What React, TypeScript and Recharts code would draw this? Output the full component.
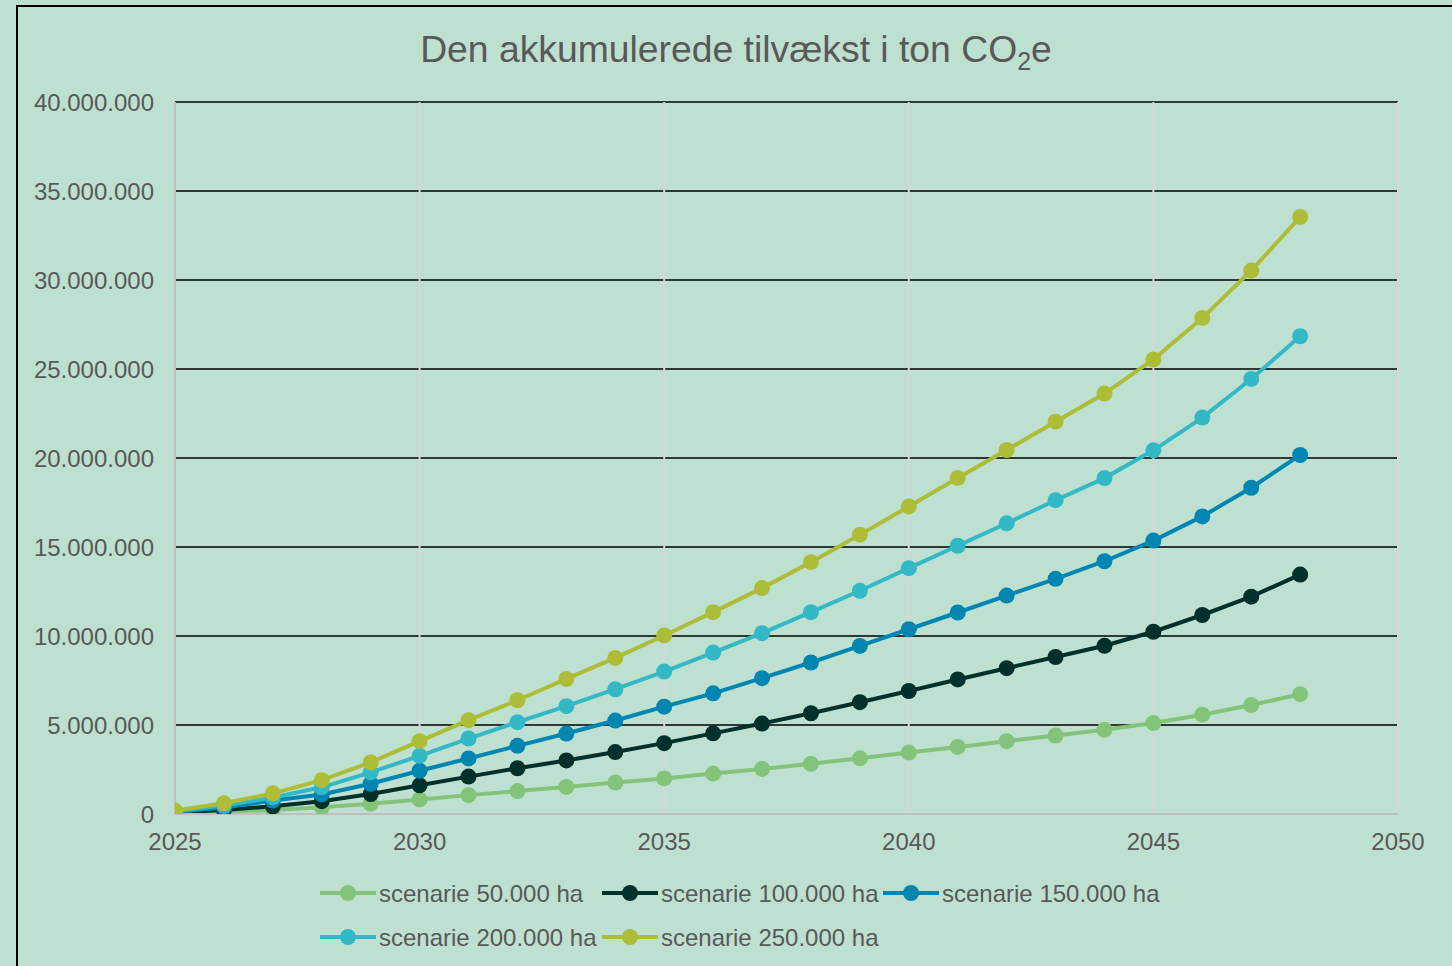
import React from "react";
import { LineChart, Line, XAxis, YAxis, CartesianGrid } from "recharts";

const years = [2025, 2026, 2027, 2028, 2029, 2030, 2031, 2032, 2033, 2034, 2035, 2036, 2037, 2038, 2039, 2040, 2041, 2042, 2043, 2044, 2045, 2046, 2047, 2048];

const scenario50 = [40000, 120000, 230000, 380000, 580000, 820000, 1060000, 1290000, 1520000, 1770000, 2000000, 2270000, 2530000, 2820000, 3130000, 3450000, 3770000, 4090000, 4410000, 4730000, 5110000, 5580000, 6120000, 6730000];
const scenario100 = [80000, 230000, 430000, 720000, 1120000, 1610000, 2100000, 2570000, 3010000, 3480000, 3980000, 4530000, 5080000, 5660000, 6280000, 6910000, 7560000, 8190000, 8820000, 9450000, 10240000, 11180000, 12210000, 13450000];
const scenario150 = [110000, 370000, 760000, 1100000, 1700000, 2430000, 3120000, 3830000, 4520000, 5250000, 6030000, 6780000, 7630000, 8510000, 9440000, 10380000, 11320000, 12270000, 13210000, 14200000, 15360000, 16720000, 18330000, 20170000];
const scenario200 = [150000, 470000, 930000, 1500000, 2340000, 3270000, 4240000, 5160000, 6060000, 7010000, 8000000, 9070000, 10160000, 11340000, 12540000, 13810000, 15070000, 16330000, 17630000, 18870000, 20430000, 22270000, 24440000, 26840000];
const scenario250 = [190000, 600000, 1160000, 1900000, 2900000, 4090000, 5270000, 6390000, 7590000, 8770000, 10030000, 11340000, 12690000, 14150000, 15690000, 17280000, 18880000, 20450000, 22040000, 23620000, 25540000, 27870000, 30530000, 33540000];

const xTicks = [2025, 2030, 2035, 2040, 2045, 2050];
const yTicks = [0, 5000000, 10000000, 15000000, 20000000, 25000000, 30000000, 35000000, 40000000];

const seriesNames = ["scenarie 50.000 ha", "scenarie 100.000 ha", "scenarie 150.000 ha", "scenarie 200.000 ha", "scenarie 250.000 ha"];
const seriesKeys = ["s50", "s100", "s150", "s200", "s250"];
const seriesColors = ["#84C47A", "#00302A", "#0086B0", "#33B9C6", "#AEBD38"];
const seriesValues = [scenario50, scenario100, scenario150, scenario200, scenario250];

const data = years.map((y, i) => {
  const row: Record<string, number> = { year: y };
  seriesKeys.forEach((k, j) => {
    row[k] = seriesValues[j][i];
  });
  return row;
});

const fmt = (v: number) => String(Math.round(v)).replace(/\B(?=(\d{3})+(?!\d))/g, ".");

const FONT = "'Liberation Sans', Arial, sans-serif";
const TEXT = "#595959";
const BG = "#BEE0D1";

const legendPos = [
  { x: 320, y: 893 },
  { x: 602, y: 893 },
  { x: 883, y: 893 },
  { x: 320, y: 937 },
  { x: 602, y: 937 },
];

export default function App() {
  return (
    <div style={{ position: "absolute", left: 0, top: 0, width: 1452, height: 966, background: BG, overflow: "hidden" }}>
      <div style={{ position: "absolute", left: 16, top: 5, width: 1500, height: 1100, borderLeft: "2px solid #000", borderTop: "2px solid #000" }} />
      <div style={{ position: "absolute", left: 0, top: 0 }}>
        <LineChart width={1452} height={966} data={data} margin={{ top: 102, right: 54, bottom: 112, left: 0 }}>
          <CartesianGrid horizontal={true} vertical={false} stroke="#000" strokeWidth={1.6} horizontalValues={yTicks} />
          <CartesianGrid horizontal={false} vertical={true} stroke="#D6D6D6" strokeWidth={2} verticalValues={xTicks} />
          <XAxis
            dataKey="year"
            type="number"
            domain={[2025, 2050]}
            ticks={xTicks}
            height={40}
            axisLine={{ stroke: "#BFBFBF", strokeWidth: 2 }}
            tickLine={false}
            tickSize={6}
            tickMargin={13}
            tick={{ fill: TEXT, fontSize: 24, fontFamily: FONT }}
            allowDataOverflow
          />
          <YAxis
            type="number"
            domain={[0, 40000000]}
            ticks={yTicks}
            width={175}
            axisLine={{ stroke: "#BFBFBF", strokeWidth: 2 }}
            tickLine={false}
            tickSize={6}
            tickMargin={15}
            tickFormatter={fmt}
            tick={{ fill: TEXT, fontSize: 24, fontFamily: FONT }}
            allowDataOverflow
          />
          {seriesKeys.map((k, j) => (
            <Line
              key={k}
              type="linear"
              dataKey={k}
              name={seriesNames[j]}
              stroke={seriesColors[j]}
              strokeWidth={4}
              dot={{ r: 8, fill: seriesColors[j], stroke: seriesColors[j], strokeWidth: 0 }}
              activeDot={false}
              isAnimationActive={false}
            />
          ))}
        </LineChart>
      </div>
      <svg width={1452} height={966} style={{ position: "absolute", left: 0, top: 0, pointerEvents: "none" }}>
        <text x={736} y={62} textAnchor="middle" fontFamily={FONT} fontSize={37.3} fill={TEXT}>
          Den akkumulerede tilvækst i ton CO
          <tspan fontSize={25} dy={8}>2</tspan>
          <tspan dy={-8}>e</tspan>
        </text>
        {seriesNames.map((n, j) => (
          <g key={n}>
            <line x1={legendPos[j].x} x2={legendPos[j].x + 56} y1={legendPos[j].y} y2={legendPos[j].y} stroke={seriesColors[j]} strokeWidth={4} />
            <circle cx={legendPos[j].x + 28} cy={legendPos[j].y} r={8} fill={seriesColors[j]} />
            <text x={legendPos[j].x + 59} y={legendPos[j].y + 8.5} fontFamily={FONT} fontSize={24} fill={TEXT}>
              {n}
            </text>
          </g>
        ))}
      </svg>
    </div>
  );
}
